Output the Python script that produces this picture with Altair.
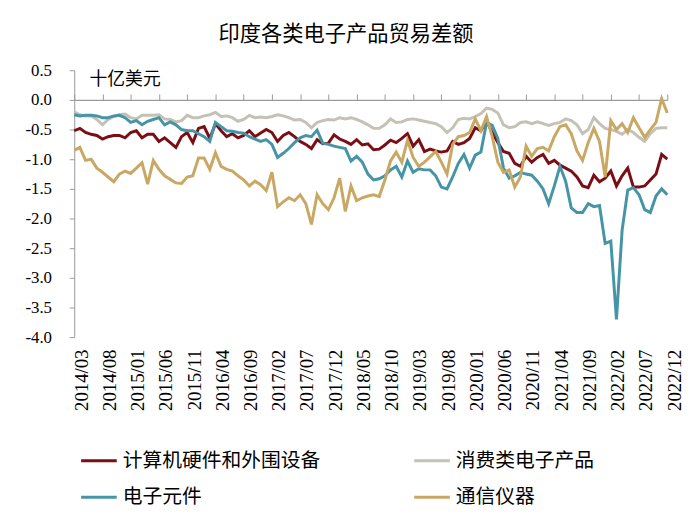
import altair as alt
import pandas as pd

# ---- categories ----
months = []
for yr in range(2014, 2023):
    for mo in range(1, 13):
        if yr == 2014 and mo < 3:
            continue
        months.append(f"{yr}/{mo:02d}")

tick_labels = ["2014/03", "2014/08", "2015/01", "2015/06", "2015/11", "2016/04",
               "2016/09", "2017/02", "2017/07", "2017/12", "2018/05", "2018/10",
               "2019/03", "2019/08", "2020/01", "2020/06", "2020/11", "2021/04",
               "2021/09", "2022/02", "2022/07", "2022/12"]

series_names = ["计算机硬件和外围设备", "消费类电子产品", "电子元件", "通信仪器"]
series_colors = ["#7A0E14", "#C4C1B5", "#4695A6", "#C8A862"]

# ---- values (billion USD) ----
hardware = [
    -0.52, -0.48, -0.55, -0.58, -0.60, -0.66, -0.62, -0.60, -0.60, -0.64,
    -0.55, -0.52, -0.64, -0.58, -0.58, -0.70, -0.64, -0.72, -0.80, -0.62,
    -0.55, -0.72, -0.48, -0.45, -0.65, -0.40, -0.52, -0.62, -0.57, -0.64,
    -0.60, -0.52, -0.62, -0.56, -0.50, -0.55, -0.70, -0.60, -0.55, -0.62,
    -0.70, -0.75, -0.82, -0.67, -0.74, -0.73, -0.59, -0.66, -0.70, -0.75,
    -0.67, -0.76, -0.74, -0.84, -0.83, -0.76, -0.68, -0.72, -0.65, -0.57,
    -0.78, -0.67, -0.87, -0.83, -0.86, -0.88, -0.86, -0.70, -0.75, -0.72,
    -0.65, -0.47, -0.52, -0.35, -0.55, -0.72, -0.87, -0.90, -1.07, -1.12,
    -0.95, -1.05, -0.97, -0.92, -1.07, -1.02, -1.10, -1.15, -1.20, -1.30,
    -1.45, -1.48, -1.27, -1.38, -1.32, -1.20, -1.45, -1.28, -1.15, -1.47,
    -1.47, -1.45, -1.35, -1.25, -0.92, -1.00,
]
consumer = [
    -0.20, -0.25, -0.27, -0.27, -0.33, -0.42, -0.33, -0.28, -0.25, -0.24,
    -0.30, -0.32, -0.26, -0.26, -0.26, -0.25, -0.32, -0.33, -0.37, -0.35,
    -0.26, -0.30, -0.30, -0.27, -0.25, -0.21, -0.28, -0.27, -0.30, -0.36,
    -0.33, -0.26, -0.30, -0.29, -0.30, -0.28, -0.25, -0.27, -0.30, -0.34,
    -0.33, -0.38, -0.47, -0.38, -0.35, -0.33, -0.34, -0.30, -0.32, -0.30,
    -0.33, -0.37, -0.42, -0.48, -0.48, -0.42, -0.32, -0.38, -0.37, -0.33,
    -0.32, -0.34, -0.36, -0.38, -0.40, -0.45, -0.55, -0.47, -0.33, -0.31,
    -0.32, -0.28, -0.23, -0.14, -0.16, -0.22, -0.42, -0.47, -0.45, -0.38,
    -0.37, -0.40, -0.37, -0.40, -0.43, -0.40, -0.38, -0.32, -0.35, -0.42,
    -0.57, -0.50, -0.30, -0.40, -0.48, -0.50, -0.53, -0.58, -0.50, -0.55,
    -0.63, -0.70, -0.57, -0.48, -0.47, -0.47,
]
components = [
    -0.25, -0.27, -0.26, -0.26, -0.27, -0.30, -0.30, -0.27, -0.26, -0.30,
    -0.38, -0.35, -0.42, -0.36, -0.33, -0.30, -0.42, -0.37, -0.42, -0.50,
    -0.52, -0.52, -0.57, -0.62, -0.70, -0.38, -0.45, -0.52, -0.53, -0.55,
    -0.56, -0.62, -0.66, -0.70, -0.67, -0.75, -0.97, -0.90, -0.82, -0.72,
    -0.64, -0.60, -0.62, -0.51, -0.73, -0.75, -0.78, -0.80, -0.82, -1.03,
    -0.95, -1.05, -1.25, -1.35, -1.33, -1.28, -1.18, -1.12, -1.30, -1.03,
    -1.22, -1.16, -1.18, -1.18, -1.28, -1.47, -1.50, -1.30, -1.07, -0.92,
    -1.15, -0.93, -0.88, -0.38, -0.43, -0.65, -1.15, -1.32, -1.28, -1.22,
    -1.25, -1.27, -1.37, -1.50, -1.75, -1.45, -1.12, -1.37, -1.82, -1.90,
    -1.90, -1.75, -1.80, -1.78, -2.42, -2.38, -3.70, -2.20, -1.52, -1.48,
    -1.60, -1.85, -1.90, -1.62, -1.50, -1.60,
]
telecom = [
    -0.85, -0.80, -1.02, -1.00, -1.15, -1.22, -1.30, -1.38, -1.25, -1.20,
    -1.24, -1.15, -1.06, -1.42, -1.02, -1.17, -1.28, -1.34, -1.40, -1.41,
    -1.30, -1.28, -0.98, -0.98, -1.17, -0.89, -1.12, -1.17, -1.20, -1.28,
    -1.35, -1.45, -1.37, -1.43, -1.53, -1.22, -1.80, -1.72, -1.65, -1.70,
    -1.60, -1.75, -2.10, -1.60, -1.75, -1.85, -1.65, -1.32, -1.88, -1.45,
    -1.70, -1.65, -1.62, -1.60, -1.63, -1.35, -1.03, -0.88, -1.05, -0.68,
    -0.97, -1.12, -1.05, -0.96, -0.87, -1.05, -1.25, -0.75, -0.62, -0.60,
    -0.55, -0.32, -0.52, -0.28, -0.62, -1.05, -1.22, -1.18, -1.47, -1.30,
    -0.78, -0.95, -0.82, -0.80, -0.86, -0.62, -0.45, -0.42, -0.57, -0.86,
    -1.02, -0.72, -0.48, -0.70, -1.30, -0.35, -0.50, -0.40, -0.55, -0.30,
    -0.47, -0.63, -0.50, -0.38, 0.02, -0.22,
]

y_ticks = [0.5, 0.0, -0.5, -1.0, -1.5, -2.0, -2.5, -3.0, -3.5, -4.0]

rows = []
for name, vals in zip(series_names, [hardware, consumer, components, telecom]):
    for m, v in zip(months, vals):
        rows.append({"月份": m, "类别": name, "值": v})
df = pd.DataFrame(rows)

x_scale = alt.Scale(type="point", padding=0, domain=months)
y_scale = alt.Scale(domain=[-4.0, 0.5], nice=False, zero=False)
color_scale = alt.Scale(domain=series_names, range=series_colors)

AX = "#9A9A9A"
SERIF = "Liberation Serif"
CJK = "Noto Sans CJK SC"

# invisible layer that carries the tick-marked axis sitting on the zero line
zero_axis = alt.Chart(df).mark_line(opacity=0).encode(
    x=alt.X("月份:O", scale=x_scale,
            axis=alt.Axis(orient="top", values=tick_labels, labels=False, offset=-30,
                          domainColor=AX, tickColor=AX, tickSize=6, domainWidth=1.2,
                          title=None, grid=False)),
)

lines = alt.Chart(df).mark_line(strokeWidth=3).encode(
    x=alt.X("月份:O", scale=x_scale,
            axis=alt.Axis(orient="bottom", values=tick_labels, labelAngle=-90,
                          labelAlign="right", labelBaseline="middle",
                          domain=False, ticks=False, labelPadding=12, labelOffset=7,
                          labelFont=SERIF, labelFontSize=19, labelColor="#000",
                          title=None, grid=False)),
    y=alt.Y("值:Q", scale=y_scale,
            axis=alt.Axis(values=y_ticks,
                          labelExpr="replace(format(datum.value, '.1f'), '\u2212', '-')",
                          labelFont=SERIF, labelFontSize=17, labelColor="#000",
                          labelPadding=18, tickSize=5, tickColor=AX, domainColor=AX,
                          grid=False, title="十亿美元", titleAngle=0, titleX=15, titleY=9,
                          titleAlign="left", titleBaseline="middle", titleFont=CJK,
                          titleFontSize=18, titleFontWeight="normal", titleColor="#000")),
    color=alt.Color("类别:N", scale=color_scale, sort=series_names,
                    legend=alt.Legend(title=None, orient="none", legendX=5, legendY=375,
                                      direction="horizontal", columns=2, columnPadding=88,
                                      rowPadding=7, symbolType="stroke", symbolSize=1300,
                                      symbolStrokeWidth=3, labelFont=CJK, labelFontSize=20,
                                      labelColor="#000", labelOffset=4, labelLimit=400)),
)

chart = alt.layer(zero_axis, lines).properties(
    width=600, height=270,
    padding={"left": 67, "top": 60, "right": 25, "bottom": 180},
    autosize=alt.AutoSizeParams(type="none"),
    background="white",
    title=alt.TitleParams("印度各类电子产品贸易差额", font=CJK, fontSize=21.5,
                          fontWeight="normal", color="#000", anchor="middle",
                          dx=-25, offset=16),
).configure_view(stroke=None)

chart.save("out.html", embed_options={"renderer": "svg", "actions": False})
